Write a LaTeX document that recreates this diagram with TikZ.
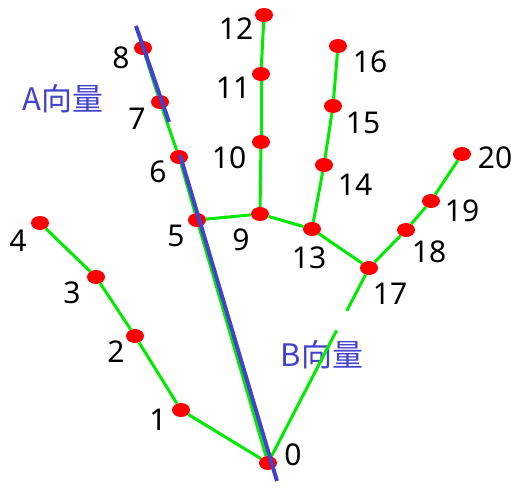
\documentclass[tikz,border=0pt]{standalone}
\usepackage{fontspec}
\setmainfont{Noto Sans}
\newfontfamily\cjk{Noto Sans CJK SC}
\usetikzlibrary{shapes.geometric,calc}

\definecolor{bonegreen}{RGB}{0,235,0}
\definecolor{vecblue}{RGB}{66,66,204}

\begin{document}
\begin{tikzpicture}[
    x=1pt,
    y=-1pt,
    joint/.style={ellipse,fill=red,minimum width=18pt,minimum height=14pt,inner sep=0pt},
    num/.style={font=\fontsize{30}{31}\selectfont,inner sep=0pt},
    bone/.style={draw=bonegreen,line width=3pt},
    vec/.style={draw=vecblue,line width=4pt},
    veclabel/.style={font=\fontsize{31}{32}\selectfont\cjk,text=vecblue,inner sep=0pt}
]
\useasboundingbox (0,0) rectangle (531,494);


% Wrist
\node[joint] (p0) at (268,463) {};


% Thumb
\node[joint] (p1) at (181,410) {};
\node[joint] (p2) at (135,336) {};
\node[joint] (p3) at (96,277) {};
\node[joint] (p4) at (40,223) {};


% Index finger
\node[joint] (p5) at (197,220) {};
\node[joint] (p6) at (179,157) {};
\node[joint] (p7) at (160,102) {};
\node[joint] (p8) at (143,48) {};


% Middle finger
\node[joint] (p9) at (260,214) {};
\node[joint] (p10) at (261,142) {};
\node[joint] (p11) at (261,74) {};
\node[joint] (p12) at (264,15) {};


% Ring finger
\node[joint] (p13) at (312,229) {};
\node[joint] (p14) at (324,165) {};
\node[joint] (p15) at (333,106) {};
\node[joint] (p16) at (338,46) {};


% Little finger
\node[joint] (p17) at (369,268) {};
\node[joint] (p18) at (406,230) {};
\node[joint] (p19) at (431,201) {};
\node[joint] (p20) at (462,154) {};


% Numbers
\node[num] (l0) at (293,455) {0};
\node[num] (l1) at (158,420) {1};
\node[num] (l2) at (116,352) {2};
\node[num] (l3) at (72,293) {3};
\node[num] (l4) at (18,241) {4};
\node[num] (l5) at (176,236) {5};
\node[num] (l6) at (158,172) {6};
\node[num] (l7) at (137,119) {7};
\node[num] (l8) at (121,58) {8};
\node[num] (l9) at (241,240) {9};
\node[num] (l10) at (229,158) {10};
\node[num] (l11) at (233,88) {11};
\node[num] (l12) at (236,29) {12};
\node[num] (l13) at (309,258) {13};
\node[num] (l14) at (355,185) {14};
\node[num] (l15) at (363,123) {15};
\node[num] (l16) at (370,62) {16};
\node[num] (l17) at (390,294) {17};
\node[num] (l18) at (429,252) {18};
\node[num] (l19) at (462,211) {19};
\node[num] (l20) at (495,158) {20};


% Vector labels
\node[veclabel] (la) at (63,99) {A向量};
\node[veclabel] (lb) at (322,355) {B向量};


% Bones
\coordinate (gap1) at ($(p17)!0.22!(p0)$);
\coordinate (gap2) at ($(p17)!0.32!(p0)$);

\draw[bone] (p0) -- (p1);
\draw[bone] (p1) -- (p2);
\draw[bone] (p2) -- (p3);
\draw[bone] (p3) -- (p4);

\draw[bone] (p0) -- (p5);
\draw[bone] (p5) -- (p6);
\draw[bone] (p6) -- (p7);
\draw[bone] (p7) -- (p8);

\draw[bone] (p5) -- (p9);
\draw[bone] (p9) -- (p10);
\draw[bone] (p10) -- (p11);
\draw[bone] (p11) -- (p12);

\draw[bone] (p9) -- (p13);
\draw[bone] (p13) -- (p14);
\draw[bone] (p14) -- (p15);
\draw[bone] (p15) -- (p16);

\draw[bone] (p13) -- (p17);
\draw[bone] (p17) -- (p18);
\draw[bone] (p18) -- (p19);
\draw[bone] (p19) -- (p20);

\draw[bone] (p17) -- (gap1);
\draw[bone] (gap2) -- (p0);


% Vectors
\coordinate (a1) at (136,26);
\coordinate (a2) at (169,122);
\coordinate (b1) at (180,155);
\coordinate (b2) at (277,481);

\draw[vec] (a1) -- (a2);
\draw[vec] (b1) -- (b2);


\end{tikzpicture}
\end{document}
